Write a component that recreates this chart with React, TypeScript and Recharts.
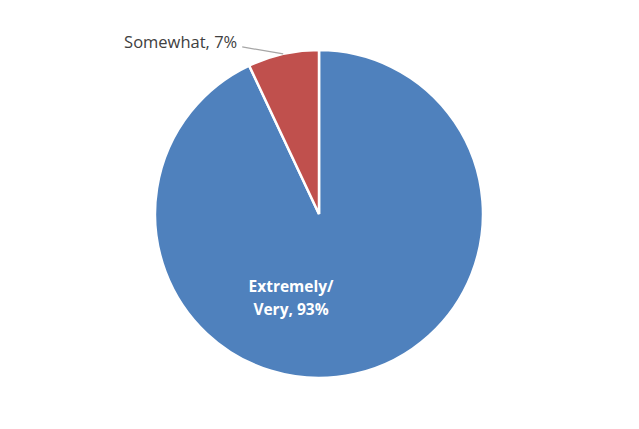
import { PieChart, Pie, Cell } from 'recharts';

const categories = ['Extremely/ Very', 'Somewhat'];
const shares = [93, 7];
const colors = ['#4F81BD', '#C0504D'];

const data = categories.map((name, i) => ({ name, value: shares[i] }));

const RAD = Math.PI / 180;

function renderLabel(props: any) {
  const { cx, cy, midAngle, outerRadius, index, name, value } = props;
  if (index === 1) {
    // outside label with a leader line
    const ex = cx + outerRadius * Math.cos(-midAngle * RAD);
    const ey = cy + outerRadius * Math.sin(-midAngle * RAD);
    const lx = ex - 41;
    const ly = ey - 7;
    return (
      <g>
        <line x1={ex} y1={ey} x2={lx} y2={ly} stroke="#A6A6A6" strokeWidth={1.3} />
        <text
          x={lx - 5}
          y={ly - 5}
          textAnchor="end"
          dominantBaseline="central"
          fill="#404040"
          fontSize={16.5}
          fontFamily="'Open Sans', sans-serif"
        >
          {`${name}, ${value}%`}
        </text>
      </g>
    );
  }
  const parts = name.split(' ');
  const tx = cx - 28;
  const ty = cy + 83;
  return (
    <text
      x={tx}
      y={ty}
      textAnchor="middle"
      fill="#FFFFFF"
      fontSize={15.5}
      fontWeight="bold"
      fontFamily="'Open Sans', sans-serif"
    >
      <tspan x={tx} dy={-11.5} dominantBaseline="central">{parts[0]}</tspan>
      <tspan x={tx} dy={23} dominantBaseline="central">{`${parts[1]}, ${value}%`}</tspan>
    </text>
  );
}

export default function App() {
  return (
    <div style={{ position: 'absolute', left: 0, top: 0, width: 639, height: 429, background: '#fff' }}>
      <PieChart width={639} height={429} margin={{ top: 0, right: 0, bottom: 0, left: 0 }}>
        <Pie
          data={data}
          dataKey="value"
          nameKey="name"
          cx={319}
          cy={214}
          outerRadius={164}
          startAngle={90}
          endAngle={-270}
          stroke="#FFFFFF"
          strokeWidth={2.5}
          label={renderLabel}
          labelLine={false}
          isAnimationActive={false}
        >
          {data.map((d, i) => (
            <Cell key={d.name} fill={colors[i]} />
          ))}
        </Pie>
      </PieChart>
    </div>
  );
}
